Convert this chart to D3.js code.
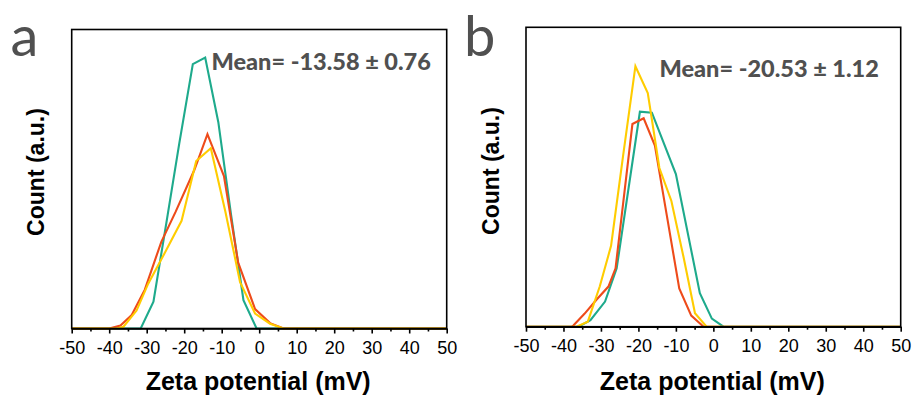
<!DOCTYPE html>
<html>
<head>
<meta charset="utf-8">
<script src="https://cdn.jsdelivr.net/npm/d3@7/dist/d3.min.js"></script>
<style>
  html, body { margin: 0; padding: 0; background: #fff; }
  svg { display: block; }
</style>
</head>
<body>
<svg id="chart" width="916" height="405"></svg>
<script>
// ---------- data ----------
const xTicks = [-50, -40, -30, -20, -10, 0, 10, 20, 30, 40, 50];
const seriesNames = ["teal", "red", "yellow"];

// Panel a
const aTealX   = [-50, -31.6, -28.2, -24.8, -21.3, -17.7, -14.4, -10.9, -7.5, -4.2, -0.7, 50];
const aTealY   = [0, 0, 9, 35, 62, 88.4, 90.6, 69, 38, 9.5, 0, 0];
const aRedX    = [-50, -40, -37, -34, -30.5, -26.1, -22.3, -17.3, -13.8, -9.4, -5.6, -1.1, 2.9, 6.5, 50];
const aRedY    = [0, 0, 1, 4.5, 13, 29, 39, 53, 65, 51, 22, 6.5, 1.8, 0, 0];
const aYellowX = [-50, -38, -36.2, -32.7, -29.6, -25.3, -20.7, -16.8, -12.9, -9, -5.1, -1.1, 2.9, 6.5, 50];
const aYellowY = [0, 0, 0.6, 6, 15, 25, 36, 56, 60.3, 39, 15.5, 5, 1.6, 0, 0];

// Panel b
const bTealX   = [-50, -36, -32.8, -28.9, -25.8, -19.6, -16.4, -10, -3.6, -0.4, 2.7, 50];
const bTealY   = [0, 0, 2.2, 8.4, 19.5, 71.8, 71.5, 51, 11.2, 2.7, 0, 0];
const bRedX    = [-50, -37.8, -37.3, -34.4, -31.2, -28, -26.1, -21.6, -18.6, -15.6, -12.4, -9.1, -5.9, -2.6, 50];
const bRedY    = [0, 0, 0.5, 4.3, 9, 13.4, 19.5, 67.7, 69.6, 60.5, 37, 12.8, 3.7, 0, 0];
const bYellowX = [-50, -36.5, -33.5, -30.3, -27.3, -24.1, -20.8, -17.5, -14.4, -11.2, -8, -4.9, -1.8, 50];
const bYellowY = [0, 0, 1.7, 13.5, 27, 57, 87, 78, 53, 42, 23.5, 4.5, 0, 0];

const meanA = "Mean= -13.58 ± 0.76";
const meanB = "Mean= -20.53 ± 1.12";
const xTitle = "Zeta potential (mV)";
const yTitle = "Count (a.u.)";

// ---------- style ----------
const colors = { teal: "#1eaa8c", red: "#ee4b1a", yellow: "#ffcc00" };

const svg = d3.select("#chart");

const panels = [
  { letter: "a", mean: meanA, left: 71.7, right: 446.7, top: 29.5, bottom: 328.5,
    meanX: 211.5, meanY: 69.5, letterX: 10.5, letterY: 56, yLabX: 43.5, yLabY: 172,
    series: { teal: [aTealX, aTealY], red: [aRedX, aRedY], yellow: [aYellowX, aYellowY] } },
  { letter: "b", mean: meanB, left: 526, right: 900.7, top: 27.3, bottom: 326.7,
    meanX: 659.5, meanY: 77, letterX: 464, letterY: 56, yLabX: 498.5, yLabY: 171,
    series: { teal: [bTealX, bTealY], red: [bRedX, bRedY], yellow: [bYellowX, bYellowY] } }
];

panels.forEach(p => {
  const x = d3.scaleLinear().domain([-50, 50]).range([p.left, p.right]);
  const y = d3.scaleLinear().domain([0, 100]).range([p.bottom, p.top]);
  const g = svg.append("g");

  // lines
  const line = d3.line().x(d => x(d[0])).y(d => y(d[1]));
  seriesNames.forEach(name => {
    const [xs, ys] = p.series[name];
    const pts = xs.map((v, i) => [v, ys[i]]);
    g.append("path")
      .attr("d", line(pts))
      .attr("fill", "none")
      .attr("stroke", colors[name])
      .attr("stroke-width", 2.1)
      .attr("stroke-linejoin", "miter");
  });

  // frame
  g.append("rect")
    .attr("x", p.left).attr("y", p.top)
    .attr("width", p.right - p.left).attr("height", p.bottom - p.top)
    .attr("fill", "none").attr("stroke", "#000").attr("stroke-width", 1.6);

  // x axis: major ticks with labels, minor ticks
  const axis = d3.axisBottom(x).tickValues(xTicks).tickSize(5).tickSizeOuter(0).tickFormat(d => String(d));
  const ax = g.append("g").attr("transform", `translate(0,${p.bottom})`).call(axis);
  ax.select(".domain").attr("stroke", "#000").attr("stroke-width", 1.6);
  ax.selectAll(".tick line").attr("stroke", "#000").attr("stroke-width", 1.6);
  ax.selectAll(".tick text")
    .attr("font-family", "Liberation Sans, Arial, sans-serif")
    .attr("font-size", 18).attr("fill", "#000").attr("y", 13).attr("dy", "0.71em");

  const minor = d3.range(-45, 50, 10);
  const axisMinor = d3.axisBottom(x).tickValues(minor).tickSize(3).tickSizeOuter(0).tickFormat("");
  const axm = g.append("g").attr("transform", `translate(0,${p.bottom})`).call(axisMinor);
  axm.select(".domain").remove();
  axm.selectAll(".tick line").attr("stroke", "#000").attr("stroke-width", 1.6);

  // x title
  g.append("text")
    .attr("x", (p.left + p.right) / 2 - 1).attr("y", 390)
    .attr("text-anchor", "middle")
    .attr("font-family", "Liberation Sans, Arial, sans-serif")
    .attr("font-weight", "bold").attr("font-size", 25)
    .attr("fill", "#000").text(xTitle);

  // y title
  g.append("text")
    .attr("transform", `translate(${p.yLabX},${p.yLabY}) rotate(-90)`)
    .attr("text-anchor", "middle")
    .attr("font-family", "Liberation Sans, Arial, sans-serif")
    .attr("font-weight", "bold").attr("font-size", 23)
    .attr("fill", "#000").text(yTitle);

  // mean annotation
  g.append("text")
    .attr("x", p.meanX).attr("y", p.meanY)
    .attr("font-family", "Lato, 'Open Sans', sans-serif")
    .attr("font-weight", "900").attr("font-size", 23.5)
    .attr("fill", "#505050").text(p.mean);

  // panel letter
  g.append("text")
    .attr("x", p.letterX).attr("y", p.letterY)
    .attr("font-family", "Lato, 'Open Sans', sans-serif")
    .attr("font-size", 56)
    .attr("fill", "#505050").text(p.letter);
});
</script>
</body>
</html>
